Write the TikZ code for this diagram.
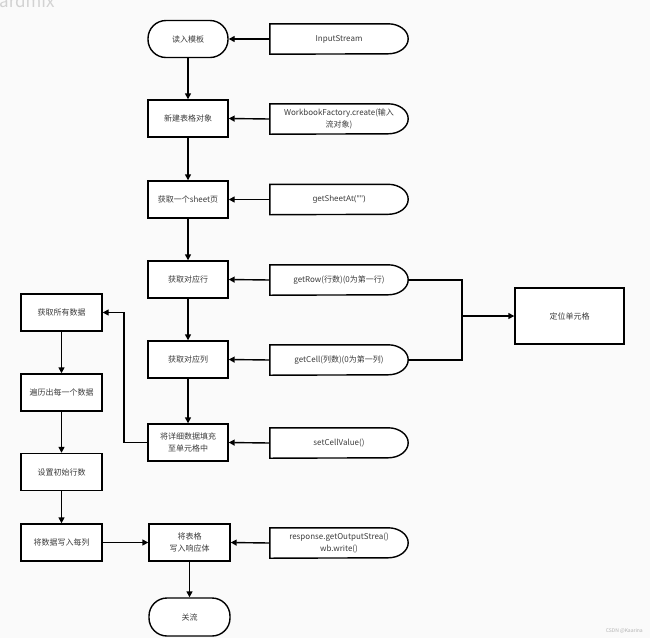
\documentclass[tikz,border=0pt]{standalone}
\usepackage{fontspec}
\setmainfont{Noto Sans CJK SC}
\newfontfamily\latinfont{Noto Sans}
\usetikzlibrary{arrows.meta}
\definecolor{bgc}{RGB}{250,250,250}
\definecolor{txt}{RGB}{60,60,60}
\tikzset{
  proc/.style={draw=black, line width=1.4pt, fill=white, minimum width=80pt, minimum height=37pt, align=center, inner sep=1pt, font=\fontsize{8}{12}\selectfont, text=txt},
  term/.style={proc, rounded corners=18pt},
  datanode/.style={minimum width=138pt, minimum height=30pt, align=center, inner sep=1pt, font=\fontsize{8}{12}\selectfont, text=txt},
  conn/.style={line width=1.4pt, -{Triangle[length=6pt,width=6pt]}},
  plain/.style={line width=1.4pt},
  shapeline/.style={line width=1.4pt, fill=white}
}
\newcommand{\delayshape}[1]{%
  \draw[shapeline] (#1.north west) -- ([xshift=-20pt]#1.north east)
    arc[start angle=90,end angle=-90,x radius=20pt,y radius=15pt]
    -- (#1.south west) -- cycle;}
\begin{document}
\begin{tikzpicture}[x=1pt,y=-1pt]
\fill[bgc] (0,0) rectangle (650,638);
\useasboundingbox (0,0) rectangle (650,638);
\node[anchor=base west, text=gray!35, font=\fontsize{17}{17}\selectfont, inner sep=0pt] (wm) at (-1,7) {ardmix};
\node[anchor=east, text=gray!60, font=\fontsize{5}{5}\selectfont, inner sep=0pt] (csdn) at (643,631) {CSDN @Kaarina};

% data shapes (outline first, then text)
\node[datanode] (input) at (339,39) {};
\node[datanode] (wb) at (339,119) {};
\node[datanode] (gs) at (339,199.5) {};
\node[datanode] (gr) at (339,280) {};
\node[datanode] (gc) at (339,360) {};
\node[datanode] (scv) at (339,443) {};
\node[datanode] (rw) at (339,543) {};
\delayshape{input}\delayshape{wb}\delayshape{gs}\delayshape{gr}\delayshape{gc}\delayshape{scv}\delayshape{rw}
\node[datanode] at (input) {InputStream};
\node[datanode] at (wb) {WorkbookFactory.create(输入\\流对象)};
\node[datanode] at (gs) {{\latinfont getSheetAt("")}};
\node[datanode] at (gr) {getRow(行数)(0为第一行)};
\node[datanode] at (gc) {getCell(列数)(0为第一列)};
\node[datanode] at (scv) {setCellValue()};
\node[datanode] at (rw) {response.getOutputStrea()\\wb.write()};

% main column
\node[term] (read) at (188,39) {读入模板};
\node[proc] (new) at (188,118.5) {新建表格对象};
\node[proc] (sheet) at (188,199.5) {获取一个sheet页};
\node[proc] (row) at (188,279.5) {获取对应行};
\node[proc] (col) at (188,359.5) {获取对应列};
\node[proc] (fill) at (188,442.5) {将详细数据填充\\至单元格中};
\node[proc, minimum width=81pt] (resp) at (189.5,542.5) {将表格\\写入响应体};
\node[term, minimum width=81pt, minimum height=38pt] (close) at (189.5,617) {关流};

% left column
\node[proc, minimum width=81pt] (all) at (61.5,312.5) {获取所有数据};
\node[proc, minimum width=81pt] (iter) at (61.5,392.5) {遍历出每一个数据};
\node[proc, minimum width=81pt] (init) at (61.5,472) {设置初始行数};
\node[proc, minimum width=81pt] (wc) at (61.5,542.5) {将数据写入每列};

% right box
\node[proc, minimum width=109pt, minimum height=56pt] (loc) at (569.5,316) {定位单元格};

\coordinate (jr) at (462,316);
\coordinate (jl) at (124,312.5);

% connectors
\draw[conn] (input.west) -- (read.east);
\draw[conn] (wb.west) -- (new.east);
\draw[conn] (gs.west) -- (sheet.east);
\draw[conn] (gr.west) -- (row.east);
\draw[conn] (gc.west) -- (col.east);
\draw[conn] (scv.west) -- (fill.east);
\draw[conn] (rw.west) -- (resp.east);

\draw[conn] (read) -- (new);
\draw[conn] (new) -- (sheet);
\draw[conn] (sheet) -- (row);
\draw[conn] (row) -- (col);
\draw[conn] (col) -- (fill);
\draw[conn] (resp) -- (close);

\draw[conn] (fill.west) -| (jl) -- (all.east);
\draw[conn] (all) -- (iter);
\draw[conn] (iter) -- (init);
\draw[conn] (init) -- (wc);
\draw[conn] (wc) -- (resp);

\draw[plain] (gr.east) -| (jr |- gc.east) -- (gc.east);
\draw[conn] (jr) -- (loc.west);
\end{tikzpicture}
\end{document}
